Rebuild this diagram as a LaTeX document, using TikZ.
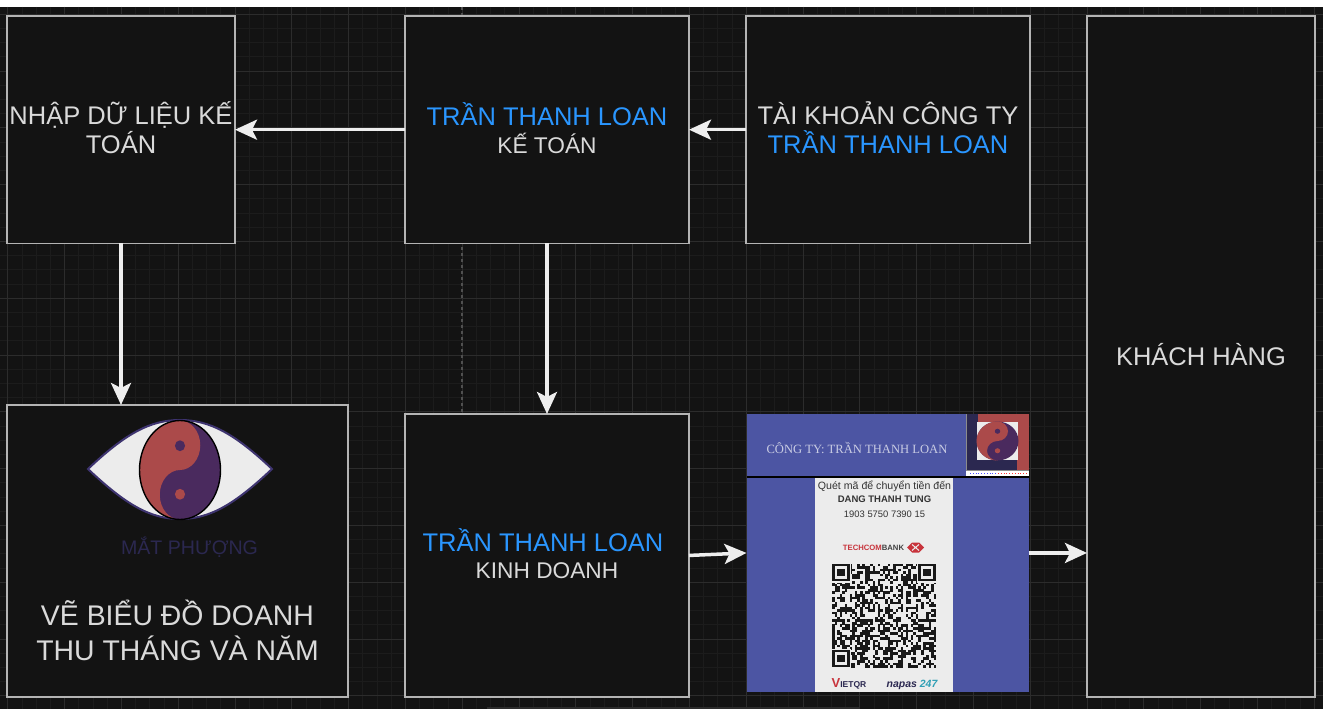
\documentclass[tikz,border=0pt]{standalone}
\usepackage{fontspec}
\setmainfont{Liberation Sans}
\newfontfamily\serifcard{Liberation Serif}
\usetikzlibrary{positioning,arrows.meta,calc}

\definecolor{canvasdark}{HTML}{131313}
\definecolor{gridminor}{HTML}{1C1C1C}
\definecolor{gridmajor}{HTML}{2C2C2C}
\definecolor{guideline}{HTML}{505050}
\definecolor{boxline}{HTML}{B4B4B4}
\definecolor{boxtext}{HTML}{DADADA}
\definecolor{nameblue}{HTML}{2A96FF}
\definecolor{flowwhite}{HTML}{EEEEEE}
\definecolor{cardblue}{HTML}{4C55A3}
\definecolor{cardpanel}{HTML}{ECECEC}
\definecolor{logored}{HTML}{AB4A4A}
\definecolor{logopurple}{HTML}{4A2A5E}
\definecolor{logonavy}{HTML}{2B2850}
\definecolor{eyeline}{HTML}{3E3470}
\definecolor{bankred}{HTML}{C8343C}
\definecolor{napasteal}{HTML}{2F9FB5}

\begin{document}
\begin{tikzpicture}[x=1pt, y=-1pt,
        box/.style={draw=boxline, fill=canvasdark, line width=1.8pt, inner sep=0pt, outer sep=0pt, align=center,
            text=boxtext, text depth=3.5pt, font=\fontsize{25.5}{29}\selectfont},
        cardbox/.style={fill=cardblue, inner sep=0pt, outer sep=0pt, minimum width=282pt, minimum height=278pt},
        cardtext/.style={inner sep=0pt, text=black!80, font=\fontsize{9.4}{12}\selectfont},
        flow/.style={-{Stealth[length=22pt,width=20pt,inset=5pt]}, line width=3.5pt, draw=flowwhite}
    ]
        \useasboundingbox (0,0) rectangle (1323,714);
        \fill[canvasdark] (0,7) rectangle (1323,709);

        % canvas grid
        \foreach \k in {0,...,93} \draw[gridminor, line width=0.8pt] (-6.5+14.2*\k,7) -- (-6.5+14.2*\k,709);
        \foreach \k in {1,...,49} \draw[gridminor, line width=0.8pt] (0,14.2*\k) -- (1323,14.2*\k);
        \foreach \k in {0,...,23} \draw[gridmajor, line width=0.8pt] (7.7+56.8*\k,7) -- (7.7+56.8*\k,709);
        \foreach \k in {0,...,12} \draw[gridmajor, line width=0.8pt] (0,14.2+56.8*\k) -- (1323,14.2+56.8*\k);
        \draw[guideline, line width=1.2pt, dashed] (462,7) -- (462,412);
        \fill[gridmajor] (487,707) rectangle (860,709);

        \node [box, minimum width=228pt, minimum height=227.5pt] (nhap) at (121,129.7) {NHẬP DỮ LIỆU KẾ\\TOÁN};
        \node [box, minimum width=284pt, minimum height=227.5pt, right=170pt of nhap] (ketoan)
            {\textcolor{nameblue}{TRẦN THANH LOAN}\\[-1.5pt]{\fontsize{22.7}{28}\selectfont KẾ TOÁN}};
        \node [box, minimum width=284pt, minimum height=227.5pt, right=57pt of ketoan] (taikhoan)
            {TÀI KHOẢN CÔNG TY\\\textcolor{nameblue}{TRẦN THANH LOAN}};
        \node [box, minimum width=228pt, minimum height=681pt, right=57pt of taikhoan.north east, anchor=north west] (khachhang)
            {KHÁCH HÀNG};
        \node [box, minimum width=284pt, minimum height=283pt, below=170.5pt of ketoan] (kinhdoanh)
            {\textcolor{nameblue}{TRẦN THANH LOAN}\hspace*{8pt}\\[-1.5pt]{\fontsize{22.7}{28}\selectfont KINH DOANH}};
        \node [box, minimum width=341pt, minimum height=292pt, below=161.5pt of nhap.south west, anchor=north west] (bieudo) {};
        \node [cardbox, below=170.5pt of taikhoan, xshift=-0.5pt] (card) {};

        \node [inner sep=0pt, align=center, text=boxtext, font=\fontsize{28.4}{35}\selectfont] (bieudotext) at (177.5,630)
            {VẼ BIỂU ĐỒ DOANH\\THU THÁNG VÀ NĂM};
        \node [inner sep=0pt, text=logonavy, font=\fontsize{19.6}{24}\selectfont] (matphuong) at (189.5,547) {MẮT PHƯỢNG};

        % eye logo
        \filldraw[fill=cardpanel, draw=eyeline, line width=2pt] (88,469) .. controls (125,434) and (150,420) .. (180,420)
            .. controls (210,420) and (235,434) .. (272,469) .. controls (235,504) and (210,519) .. (180,519)
            .. controls (150,519) and (125,504) .. (88,469) -- cycle;
        \begin{scope}[shift={(180,470)}, x=1pt, y=1pt, xscale=40.5, yscale=49.5]
            \fill[logopurple] (0,0) circle[radius=1pt];
            \fill[logored] (0,1) arc[start angle=90, end angle=270, radius=1pt]
                arc[start angle=270, end angle=90, radius=.5pt] arc[start angle=270, end angle=450, radius=.5pt] -- cycle;
            \fill[logopurple] (0,.49) ellipse[x radius=.125pt, y radius=.11pt];
            \fill[logored] (0,-.49) ellipse[x radius=.125pt, y radius=.11pt];
            \draw[black, line width=1.4pt] (0,0) circle[radius=1pt];
        \end{scope}

        % payment card
        \draw[black, line width=1.4pt] (card.west |- 0,477) -- (card.east |- 0,477);
        \fill[cardpanel] (815,478) rectangle (953,692);
        \node [inner sep=0pt, text=cardblue!30!white, font=\serifcard\fontsize{12.6}{14}\selectfont] (cardtitle) at (857,448)
            {CÔNG TY: TRẦN THANH LOAN};
        \node [cardtext, font=\fontsize{10.6}{12}\selectfont] (scanline) at (884.5,486) {Quét mã để chuyển tiền đến};
        \node [cardtext, font=\bfseries\fontsize{9.5}{12}\selectfont] (payee) at (884.5,499.5) {DANG THANH TUNG};
        \node [cardtext] (account) at (884.5,514.5) {1903 5750 7390 15};
        \node [cardtext, font=\bfseries\fontsize{7.7}{9}\selectfont] (bank) at (873.5,547.5) {\textcolor{bankred}{TECHCOM}\textcolor{black!75}{BANK}};
        \node [inner sep=0pt, text=bankred, font=\bfseries\fontsize{13}{13}\selectfont] (vietqr) at (849,684)
            {V\textcolor{logonavy}{\fontsize{8.5}{10}\selectfont IETQR}};
        \node [inner sep=0pt, text=logonavy, font=\bfseries\itshape\fontsize{10.5}{13}\selectfont] (napas) at (912,685)
            {napas \textcolor{napasteal}{247}};

        % bank mark
        \fill[bankred] (907,547.5) -- (912,542.5) -- (919,542.5) -- (924,547.5) -- (919,552.5) -- (912,552.5) -- cycle;
        \draw[cardpanel, line width=1pt] (912,544.5) -- (915.5,547.5) -- (912,550.5) (919,544.5) -- (915.5,547.5) -- (919,550.5);

        % QR code
        \pgfmathsetseed{47}
        \foreach \i in {0,...,40} \foreach \j in {0,...,40} {
            \pgfmathtruncatemacro{\qrbit}{rnd<0.5}
            \ifnum\qrbit=1 \fill[black!90] (832+2.54*\i,563.5+2.54*\j) rectangle ++(2.6,2.6); \fi
        }
        \foreach \px/\py in {832/563.5, 918/563.5, 832/649.5} {
            \fill[cardpanel] (\px-1,\py-1) rectangle ++(20,20);
            \fill[black!90] (\px,\py) rectangle ++(17.8,17.8);
            \fill[cardpanel] (\px+2.5,\py+2.5) rectangle ++(12.8,12.8);
            \fill[black!90] (\px+5,\py+5) rectangle ++(7.8,7.8);
        }

        % company mark on the card
        \fill[black!45] (965.5,414) rectangle (1028.5,476);
        \fill[logonavy] (967,414) rectangle (1017,470);
        \fill[logored] (977.5,414) rectangle (1028.5,470);
        \fill[logonavy] (967,460) rectangle (1017,470);
        \fill[cardpanel] (977,422) rectangle (1018,460);
        \fill[white] (966,470.5) rectangle (1028.5,476);
        \draw[blue!70, line width=0.8pt, dotted] (970,473) -- (996,473);
        \draw[red!80, line width=0.8pt, dotted] (998,473) -- (1027,473);
        \begin{scope}[shift={(997.5,441)}, x=1pt, y=1pt, xscale=21, yscale=19.5]
            \fill[logopurple] (0,0) circle[radius=1pt];
            \fill[logored] (0,1) arc[start angle=90, end angle=270, radius=1pt]
                arc[start angle=270, end angle=90, radius=.5pt] arc[start angle=270, end angle=450, radius=.5pt] -- cycle;
            \fill[logopurple] (0,.5) circle[radius=.13pt];
            \fill[logored] (0,-.5) circle[radius=.13pt];
        \end{scope}

        \draw [flow] (taikhoan) -- (ketoan);
        \draw [flow] (ketoan) -- (nhap);
        \draw [flow] (nhap.south) -- (nhap.south |- bieudo.north);
        \draw [flow] (ketoan) -- (kinhdoanh);
        \draw [flow] (kinhdoanh.east) -- (card.west);
        \draw [flow] (card.east) -- (card.east -| khachhang.west);
    \end{tikzpicture}
\end{document}
